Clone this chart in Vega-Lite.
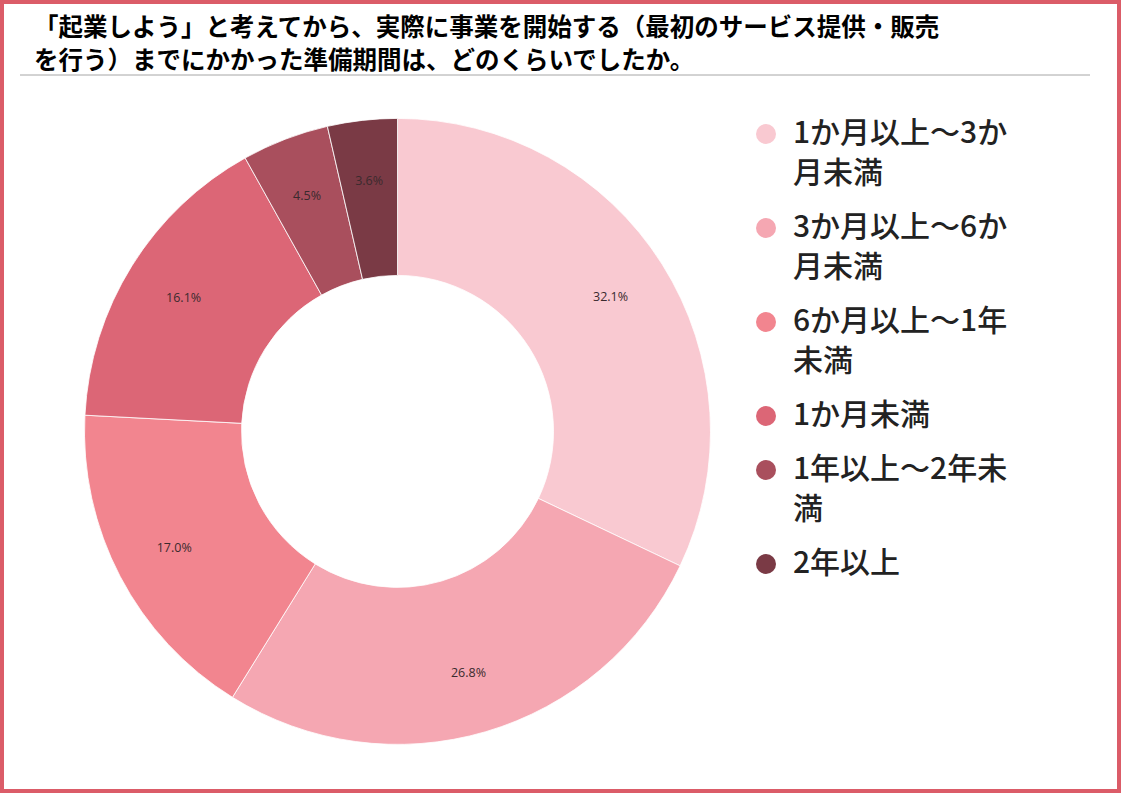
{
  "$schema": "https://vega.github.io/schema/vega-lite/v6.json",
  "width": 1121,
  "height": 793,
  "autosize": {"type": "fit", "contains": "padding"},
  "padding": 0,
  "background": "white",
  "view": {"fill": "white", "stroke": "#DB5C68", "strokeWidth": 8},
  "config": {
    "font": "Noto Sans CJK JP",
    "style": {"guide-label": {"lineHeight": 40, "dy": -15}}
  },
  "title": {
    "text": ["「起業しよう」と考えてから、実際に事業を開始する（最初のサービス提供・販売", "を行う）までにかかった準備期間は、どのくらいでしたか。"],
    "anchor": "start",
    "orient": "top",
    "frame": "group",
    "offset": -74,
    "baseline": "top",
    "dx": 34,
    "font": "Noto Sans CJK JP",
    "fontSize": 24.5,
    "fontWeight": "bold",
    "color": "#000000",
    "lineHeight": 33
  },
  "layer": [
    {
      "data": {
        "values": [
          {"category": "1か月以上～3か月未満", "share": 0.321},
          {"category": "3か月以上～6か月未満", "share": 0.268},
          {"category": "6か月以上～1年未満", "share": 0.170},
          {"category": "1か月未満", "share": 0.161},
          {"category": "1年以上～2年未満", "share": 0.045},
          {"category": "2年以上", "share": 0.036}
        ]
      },
      "layer": [
        {
          "mark": {"type": "arc", "outerRadius": 313, "innerRadius": 156, "stroke": "#ffffff", "strokeWidth": 0.8, "x": {"expr": "width*0.3546"}, "y": {"expr": "height*0.544"}},
          "encoding": {
            "theta": {"field": "share", "type": "quantitative", "stack": true},
            "order": {"field": "share", "type": "quantitative", "sort": "descending"},
            "color": {
              "field": "category",
              "type": "nominal",
              "sort": null,
              "scale": {
                "domain": ["1か月以上～3か月未満", "3か月以上～6か月未満", "6か月以上～1年未満", "1か月未満", "1年以上～2年未満", "2年以上"],
                "range": ["#F9C9D1", "#F5A7B2", "#F2858F", "#DC6676", "#A94F5D", "#7A3A45"]
              },
              "legend": {
                "title": null,
                "orient": "none",
                "legendX": 751,
                "legendY": 119,
                "padding": 0,
                "symbolType": "circle",
                "symbolSize": 400,
                "symbolStrokeWidth": 0,
                "symbolOpacity": 1,
                "labelFont": "Noto Sans CJK JP",
                "labelFontSize": 30,
                "labelFontWeight": 500,
                "labelColor": "#222222",
                "labelOffset": 12,
                "labelLimit": 400,
                "labelBaseline": "top",
                "rowPadding": 24,
                "labelExpr": "length(datum.label) > 8 ? [substring(datum.label, 0, 8), substring(datum.label, 8)] : datum.label"
              }
            }
          }
        },
        {
          "mark": {"type": "text", "radius": 252, "font": "Open Sans", "fontSize": 12.5, "color": "#3a2a2e", "x": {"expr": "width*0.3546"}, "y": {"expr": "height*0.544"}},
          "encoding": {
            "theta": {"field": "share", "type": "quantitative", "stack": true},
            "order": {"field": "share", "type": "quantitative", "sort": "descending"},
            "text": {"field": "share", "type": "quantitative", "format": ".1%"}
          }
        }
      ]
    },
    {
      "data": {"values": [{"note": "title underline"}]},
      "mark": {"type": "rule", "color": "#A6A6A6", "strokeWidth": 1},
      "encoding": {"x": {"value": 20}, "x2": {"value": 1090}, "y": {"value": 75}}
    }
  ]
}
